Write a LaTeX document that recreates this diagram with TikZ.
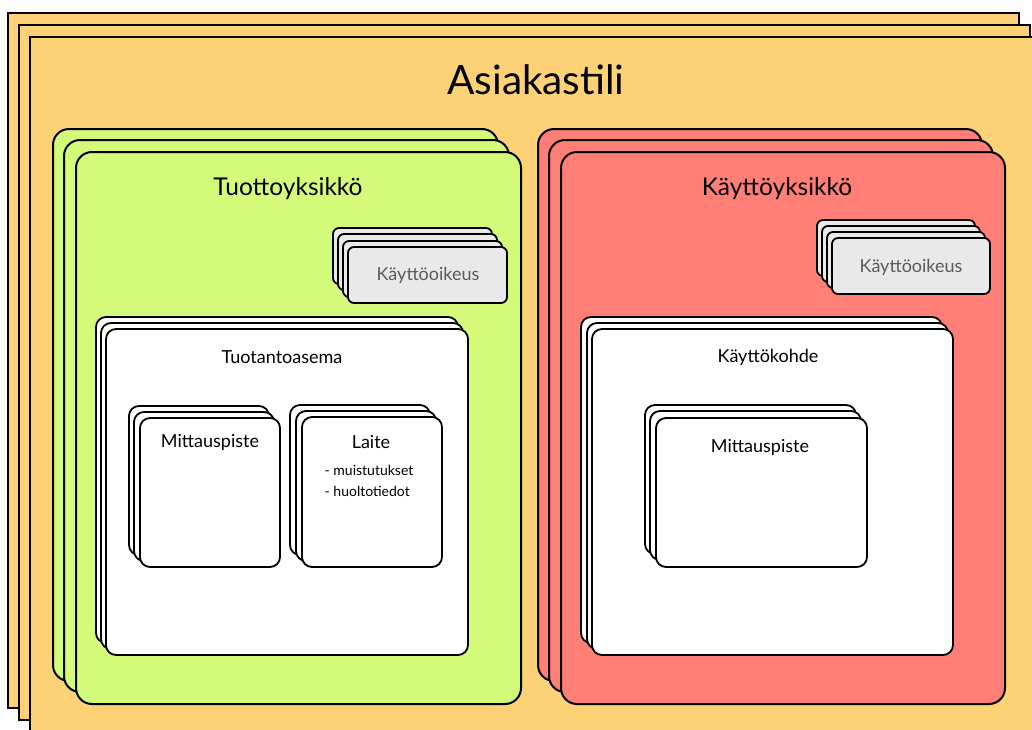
\documentclass[tikz,border=0pt]{standalone}
\usepackage{fontspec}
\setmainfont{Lato}
\definecolor{orangefill}{HTML}{FDD276}
\definecolor{greenfill}{HTML}{D4FA7A}
\definecolor{redfill}{HTML}{FF7F76}
\definecolor{grayfill}{HTML}{E9E9E9}
\definecolor{graytext}{HTML}{5A5A5A}
\tikzset{
  layer/.style={draw=black, line width=2pt, inner sep=0pt, outer sep=0pt, anchor=north west, rectangle},
  outerbox/.style={layer, fill=orangefill},
  greenbox/.style={layer, fill=greenfill, rounded corners=16pt},
  redbox/.style={layer, fill=redfill, rounded corners=16pt},
  rightsbox/.style={layer, fill=grayfill, rounded corners=6pt, line width=1.8pt},
  whitebox/.style={layer, fill=white, rounded corners=10pt, line width=1.8pt},
  label/.style={inner sep=0pt, align=center, text=black}
}
\begin{document}
\begin{tikzpicture}[x=1pt,y=-1pt]
\useasboundingbox (0,0) rectangle (1032,729);
% outer stack
\foreach \i/\x/\y in {0/8/13,1/19/25,2/30/37}
  \node[outerbox, minimum width=1011pt, minimum height=695pt] (asiakas\i) at (\x,\y) {};
\node[label, font=\fontsize{40.5}{44}\selectfont] (asiakastili) at (536,80) {Asiakastili};
% green stack
\foreach \i/\x/\y in {0/53/129,1/64/140,2/76/152}
  \node[greenbox, minimum width=445pt, minimum height=552pt] (tuotto\i) at (\x,\y) {};
\node[label, font=\fontsize{24.5}{28}\selectfont] (tuottoyksikko) at (288,189) {Tuottoyksikkö};
% red stack
\foreach \i/\x/\y in {0/538/129,1/549/140,2/561/152}
  \node[redbox, minimum width=444pt, minimum height=552pt] (kaytto\i) at (\x,\y) {};
\node[label, font=\fontsize{24.5}{28}\selectfont] (kayttoyksikko) at (777,189) {Käyttöyksikkö};
% rights stacks
\foreach \i/\x/\y in {0/333/228,1/338/234,2/343/241,3/348/247}
  \node[rightsbox, minimum width=159pt, minimum height=56pt] (oikeusA\i) at (\x,\y) {};
\node[label, text=graytext, font=\fontsize{18}{21}\selectfont] (oikeusAtext) at (428,275) {Käyttöoikeus};
\foreach \i/\x/\y in {0/817/220,1/822/226,2/827/232,3/832/238}
  \node[rightsbox, minimum width=158pt, minimum height=56pt] (oikeusB\i) at (\x,\y) {};
\node[label, text=graytext, font=\fontsize{18}{21}\selectfont] (oikeusBtext) at (911,267) {Käyttöoikeus};
% Tuotantoasema
\foreach \i/\x/\y in {0/96/317,1/101/323,2/106/329}
  \node[whitebox, minimum width=362pt, minimum height=326pt] (asema\i) at (\x,\y) {};
\node[label, font=\fontsize{18}{21}\selectfont] (asematext) at (282,357) {Tuotantoasema};
% Kayttokohde
\foreach \i/\x/\y in {0/581/317,1/587/323,2/592/329}
  \node[whitebox, minimum width=361pt, minimum height=326pt] (kohde\i) at (\x,\y) {};
\node[label, font=\fontsize{18}{21}\selectfont] (kohdetext) at (768,357) {Käyttökohde};
% Mittauspiste left
\foreach \i/\x/\y in {0/129/406,1/134/412,2/140/418}
  \node[whitebox, minimum width=140pt, minimum height=149pt] (mittaA\i) at (\x,\y) {};
\node[label, font=\fontsize{18}{21}\selectfont] (mittaAtext) at (210,442) {Mittauspiste};
% Laite
\foreach \i/\x/\y in {0/290/405,1/296/411,2/302/417}
  \node[whitebox, minimum width=140pt, minimum height=150pt] (laite\i) at (\x,\y) {};
\node[label, font=\fontsize{18}{21}\selectfont] (laitetext) at (371,442) {Laite};
\node[label, align=left, font=\fontsize{14}{21}\selectfont] (laitelist) at (369,481) {- muistutukset\\- huoltotiedot};
% Mittauspiste right
\foreach \i/\x/\y in {0/645/405,1/650/411,2/656/418}
  \node[whitebox, minimum width=211pt, minimum height=149pt] (mittaB\i) at (\x,\y) {};
\node[label, font=\fontsize{18}{21}\selectfont] (mittaBtext) at (760,447) {Mittauspiste};
\end{tikzpicture}
\end{document}
